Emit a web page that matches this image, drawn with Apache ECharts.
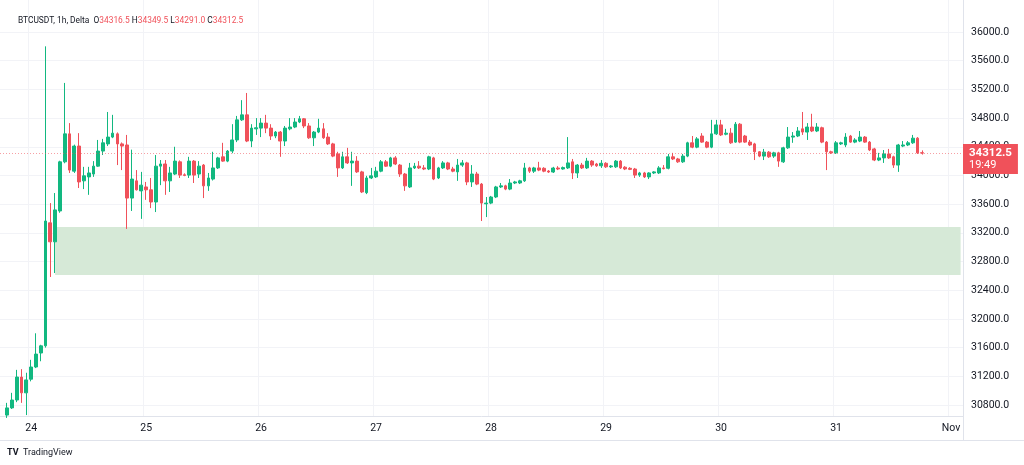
<!DOCTYPE html>
<html>
<head>
<meta charset="utf-8">
<script src="https://cdn.jsdelivr.net/npm/echarts@6/dist/echarts.min.js"></script>
<style>
html,body{margin:0;padding:0;background:#fff;}
#chart{width:1024px;height:465px;}
</style>
</head>
<body>
<div id="chart"></div>
<script>
// ---- data (1h candles, Oct 23 19:00 .. Oct 31 18:00) ----
const symbolTitle = 'BTCUSDT, 1h, Delta';
const dayLabels = ['24', '25', '26', '27', '28', '29', '30', '31', 'Nov'];
const yTicks = [30800, 31200, 31600, 32000, 32400, 32800, 33200, 33600, 34000, 34400, 34800, 35200, 35600, 36000];
const zoneLow = 32613;
const zoneHigh = 33282;
const countdown = '19:49';

const opens = [
  30660, 30760, 30870, 31190, 30970,
  31160, 31330, 31525, 31625, 33340, 33075, 33505, 34190, 34580, 34060, 34410, 33925, 33980, 34020, 34130, 34340, 34440, 34535, 34580, 34440, 34425, 33685, 33925, 33785,
  33840, 33800, 33630, 34130, 34160, 33925, 34020, 34190, 34010, 34005, 34200, 34020, 34145, 33855, 33950, 34105, 34260, 34200, 34340, 34495, 34775, 34845, 34480, 34650,
  34660, 34730, 34660, 34550, 34605, 34480, 34650, 34675, 34745, 34790, 34690, 34525, 34605, 34650, 34535, 34440, 34300, 34105, 34260, 34175, 34200, 34050, 33760, 33965,
  33980, 34060, 34190, 34130, 34245, 34145, 34020, 33840, 34105, 34130, 34105, 34090, 34245, 33965, 34105, 34175, 34090, 34050, 34145, 34175, 33910, 34020, 33880, 33605,
  33615, 33700, 33840, 33855, 33810, 33895, 33895, 33925, 34105, 34060, 34105, 34100, 34062, 34048, 34104, 34090, 34105, 34190, 34035, 34145, 34105, 34200, 34160, 34135,
  34170, 34120, 34120, 34200, 34115, 34100, 34090, 34005, 34035, 33980, 34035, 34035, 34105, 34100, 34260, 34230, 34190, 34270, 34455, 34395, 34550, 34465, 34395, 34580,
  34705, 34575, 34590, 34465, 34715, 34550, 34465, 34440, 34330, 34270, 34325, 34270, 34315, 34190, 34385, 34535, 34550, 34650, 34605, 34675, 34620, 34665, 34465, 34330,
  34315, 34440, 34425, 34550, 34465, 34480, 34535, 34465, 34370, 34215, 34245, 34300, 34260, 34145, 34410, 34425, 34455, 34520, 34316.5
];
const closes = [
  30760, 30870, 31190, 30970, 31150,
  31330, 31510, 31625, 33365, 33075, 33520, 34190, 34580, 34075, 34410, 33910, 33995, 34035, 34130, 34340, 34455, 34535, 34590, 34440, 34410, 33685, 33950, 33800, 33865,
  33800, 33630, 34130, 34160, 33925, 34035, 34200, 34005, 34000, 34200, 34005, 34130, 33855, 33965, 34105, 34245, 34200, 34340, 34495, 34775, 34845, 34480, 34660, 34665,
  34730, 34660, 34550, 34605, 34480, 34660, 34675, 34745, 34790, 34690, 34525, 34605, 34660, 34525, 34440, 34270, 34105, 34260, 34175, 34200, 34050, 33770, 33965, 33995,
  34060, 34190, 34130, 34245, 34160, 34020, 33855, 34105, 34130, 34105, 34090, 34260, 33950, 34105, 34175, 34090, 34060, 34145, 34175, 33910, 34020, 33880, 33615, 33615,
  33700, 33840, 33855, 33810, 33895, 33910, 33925, 34105, 34060, 34105, 34075, 34060, 34048, 34104, 34090, 34110, 34175, 34035, 34145, 34105, 34200, 34145, 34135, 34170,
  34120, 34132, 34200, 34105, 34090, 34085, 34005, 34035, 33980, 34035, 34050, 34105, 34095, 34260, 34230, 34190, 34270, 34455, 34395, 34510, 34465, 34395, 34580, 34705,
  34565, 34590, 34455, 34715, 34465, 34465, 34425, 34330, 34270, 34325, 34260, 34315, 34200, 34385, 34535, 34550, 34620, 34605, 34675, 34620, 34675, 34465, 34330, 34315,
  34455, 34455, 34535, 34465, 34495, 34535, 34465, 34355, 34215, 34245, 34300, 34245, 34145, 34425, 34425, 34455, 34520, 34315, 34312.5
];
const lows = [
  30620, 30745, 30840, 30830, 30660,
  31130, 31315, 31410, 31600, 32585, 32640, 33480, 34170, 34035, 34035, 33825, 33810, 33730, 33980, 34120, 34285, 34410, 34520, 34145, 34075, 33255, 33505, 33790, 33395,
  33660, 33545, 33490, 33865, 33730, 33770, 34005, 33965, 33990, 33965, 33895, 33965, 33685, 33785, 33930, 34090, 34190, 34185, 34310, 34465, 34760, 34465, 34395, 34565,
  34535, 34590, 34495, 34520, 34260, 34410, 34630, 34660, 34730, 34660, 34510, 34410, 34590, 34510, 34425, 34255, 33980, 34090, 34160, 33855, 34035, 33755, 33740, 33950,
  33965, 34045, 34120, 34115, 34145, 33980, 33785, 33825, 34090, 34090, 34075, 34075, 33935, 33950, 34090, 34075, 34045, 33925, 34120, 33865, 33840, 33865, 33365, 33420,
  33600, 33685, 33825, 33795, 33795, 33880, 33880, 33910, 34035, 34035, 34060, 34045, 34035, 34035, 34075, 34080, 34090, 33950, 33965, 34090, 34090, 34120, 34120, 34105,
  34105, 34105, 34105, 34090, 34075, 34075, 33965, 33980, 33965, 33950, 34020, 34020, 34085, 34085, 34215, 34175, 34175, 34255, 34380, 34380, 34455, 34380, 34380, 34565,
  34550, 34560, 34440, 34455, 34450, 34455, 34410, 34215, 34255, 34215, 34245, 34245, 34120, 34175, 34370, 34455, 34535, 34565, 34495, 34605, 34605, 34450, 34075, 34300,
  34300, 34425, 34395, 34455, 34450, 34465, 34455, 34340, 34200, 34200, 34175, 34230, 34105, 34050, 34395, 34410, 34440, 34300, 34291.0
];
const highs = [
  30830, 30970, 31290, 31300, 31250,
  31430, 31800, 31640, 35800, 33615, 33755, 34205, 35290, 34730, 34430, 34590, 34120, 34120, 34200, 34495, 34510, 34885, 34845, 34600, 34460, 34565, 34360, 34075, 34050,
  33910, 33965, 34285, 34215, 34215, 34120, 34400, 34210, 34030, 34260, 34215, 34200, 34160, 34035, 34330, 34260, 34455, 34355, 34715, 34830, 35050, 35150, 34715, 34800,
  34800, 34845, 34715, 34620, 34620, 34690, 34800, 34800, 34830, 34800, 34730, 34620, 34790, 34730, 34590, 34455, 34330, 34330, 34385, 34330, 34270, 34065, 33995, 34105,
  34120, 34215, 34215, 34260, 34270, 34160, 34035, 34175, 34175, 34200, 34145, 34275, 34260, 34120, 34200, 34190, 34120, 34230, 34215, 34190, 34145, 34050, 33895, 33700,
  33715, 33855, 33895, 33870, 33950, 33925, 33940, 34175, 34120, 34120, 34190, 34115, 34075, 34120, 34130, 34125, 34535, 34230, 34160, 34175, 34245, 34215, 34175, 34215,
  34185, 34145, 34215, 34215, 34130, 34115, 34105, 34050, 34050, 34045, 34060, 34130, 34145, 34300, 34315, 34245, 34300, 34470, 34550, 34535, 34590, 34480, 34775, 34775,
  34775, 34650, 34660, 34745, 34730, 34565, 34495, 34455, 34340, 34370, 34340, 34330, 34330, 34400, 34675, 34605, 34675, 34885, 34730, 34860, 34730, 34680, 34480, 34345,
  34480, 34470, 34590, 34565, 34520, 34620, 34550, 34480, 34385, 34315, 34355, 34370, 34275, 34440, 34480, 34480, 34565, 34535, 34349.5
];

// ---- build ----
const padLeft = 1, padRight = 8;
const startMs = Date.UTC(2023, 9, 23, 19) - padLeft * 3600e3;
const nCats = padLeft + opens.length + padRight;
const categories = [];
for (let k = 0; k < nCats; k++) {
  categories.push(new Date(startMs + k * 3600e3).toISOString().slice(5, 16).replace('T', ' '));
}
const firstMidnight = padLeft + 5; // index of Oct 24 00:00
const isDayStart = (idx) => idx >= firstMidnight && (idx - firstMidnight) % 24 === 0;

const empty = ['-', '-', '-', '-'];
const candleData = [];
for (let i = 0; i < padLeft; i++) candleData.push(empty);
opens.forEach((o, i) => candleData.push([o, closes[i], lows[i], highs[i]]));
for (let i = 0; i < padRight; i++) candleData.push(empty);

const last = opens.length - 1;
const lastPrice = closes[last];
const fmt = (v) => Number(v).toFixed(1);

const UP = '#12b880', DOWN = '#f0515a';
const FONT = 'Roboto, "Liberation Sans", sans-serif';
const HF = 8.4;

const chart = echarts.init(document.getElementById('chart'), null, { renderer: 'canvas' });
chart.setOption({
  animation: false,
  backgroundColor: '#ffffff',
  title: {
    left: 13, top: 12,
    text: '{n|' + symbolTitle + '}  {k|O}{v|' + fmt(opens[last]) + '} {k|H}{v|' + fmt(highs[last]) +
          '} {k|L}{v|' + fmt(lows[last]) + '} {k|C}{v|' + fmt(closes[last]) + '}',
    textStyle: {
      fontFamily: FONT, fontSize: HF, fontWeight: 'normal',
      rich: {
        n: { color: '#131722', fontSize: HF, fontFamily: FONT },
        k: { color: '#131722', fontSize: HF, fontFamily: FONT },
        v: { color: DOWN, fontSize: HF, fontFamily: FONT }
      }
    }
  },
  grid: { left: 0, right: 61, top: 0, bottom: 49, containLabel: false },
  xAxis: {
    type: 'category',
    data: categories,
    boundaryGap: true,
    axisLine: { show: true, lineStyle: { color: '#e0e3eb', width: 1 } },
    axisTick: { show: false },
    axisLabel: {
      interval: (idx) => isDayStart(idx),
      formatter: (val, idx) => dayLabels[(idx - firstMidnight) / 24],
      color: '#131722', fontSize: 10.5, fontFamily: FONT, margin: 7
    },
    splitLine: { show: true, interval: (idx) => isDayStart(idx), lineStyle: { color: '#f2f3f7', width: 1 } }
  },
  yAxis: {
    type: 'value',
    position: 'right',
    min: 30647, max: 36446,
    scale: true,
    axisLine: { show: true, lineStyle: { color: '#e0e3eb', width: 1 } },
    axisTick: { show: false, customValues: yTicks },
    axisLabel: {
      customValues: yTicks,
      formatter: (v) => fmt(v),
      color: '#131722', fontSize: 10.5, fontFamily: FONT, margin: 8
    },
    splitLine: { show: true, lineStyle: { color: '#f2f3f7', width: 1 } }
  },
  series: [{
    type: 'candlestick',
    data: candleData,
    barWidth: '68%',
    itemStyle: { color: UP, color0: DOWN, borderColor: UP, borderColor0: DOWN, borderWidth: 1 },
    markArea: {
      silent: true,
      itemStyle: { color: '#d6e9d7', opacity: 1 },
      data: [[
        { xAxis: categories[padLeft + 10], yAxis: zoneHigh },
        { xAxis: categories[nCats - 1], yAxis: zoneLow }
      ]]
    },
    markLine: {
      silent: true,
      symbol: ['none', 'none'],
      lineStyle: { color: 'rgba(240,81,90,0.55)', type: [1, 2], width: 1 },
      label: {
        show: true,
        position: 'end',
        distance: 0,
        offset: [0, 6],
        formatter: () => '{p|' + fmt(lastPrice) + '}\n{t|' + countdown + '}',
        backgroundColor: DOWN,
        padding: [3, 6, 3, 6],
        rich: {
          p: { color: '#fff', fontSize: 11.5, fontWeight: 'bold', fontFamily: FONT, lineHeight: 12 },
          t: { color: '#fff', fontSize: 11, fontFamily: FONT, lineHeight: 12 }
        }
      },
      data: [{ yAxis: lastPrice }]
    }
  }],
  graphic: [
    { type: 'line', shape: { x1: 0, y1: 440.5, x2: 1024, y2: 440.5 }, style: { stroke: '#e0e3eb', lineWidth: 1 } },
    { type: 'line', shape: { x1: 963.5, y1: 416, x2: 963.5, y2: 440 }, style: { stroke: '#e0e3eb', lineWidth: 1 } },
    { type: 'text', left: 7, top: 448, style: { text: 'TV', font: 'bold 9px ' + FONT, fill: '#131722' } },
    { type: 'text', left: 23, top: 448, style: { text: 'TradingView', font: '9px ' + FONT, fill: '#131722' } }
  ]
});
</script>
</body>
</html>
